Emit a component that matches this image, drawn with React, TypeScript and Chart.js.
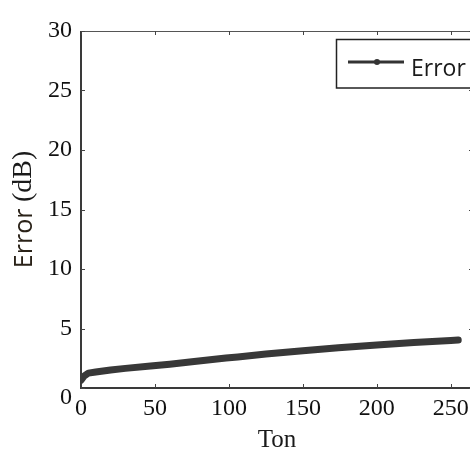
import React, { useEffect, useRef } from "react";
import { Chart, registerables } from "chart.js";

Chart.register(...registerables);

const tonValues = [0, 2, 5, 10, 20, 30, 47, 60, 75, 98, 106, 125, 150, 174, 200, 225, 250, 255];
const errorValues = [0.65, 1.0, 1.25, 1.35, 1.52, 1.65, 1.85, 2.0, 2.2, 2.52, 2.61, 2.85, 3.13, 3.38, 3.62, 3.82, 4.0, 4.03];
const xTicks = [0, 50, 100, 150, 200, 250];
const yTicks = [0, 5, 10, 15, 20, 25, 30];
const seriesLabel = "Error";
const xTitle = "Ton";
const yTitleParts = ["Error ", "(dB)"];

const SERIF = "\"Liberation Serif\", serif";
const SANS = "\"Open Sans\", sans-serif";

const framePlugin = {
  id: "matlabFrame",
  afterDraw(chart: any) {
    const ctx = chart.ctx as CanvasRenderingContext2D;
    const { left, right, top, bottom } = chart.chartArea;
    const xs = chart.scales.x;
    const ys = chart.scales.y;
    ctx.save();
    ctx.strokeStyle = "#3a3a3a";
    ctx.lineWidth = 2;
    ctx.beginPath();
    ctx.moveTo(left, top);
    ctx.lineTo(left, bottom);
    ctx.lineTo(right, bottom);
    ctx.stroke();
    ctx.lineWidth = 1.2;
    ctx.strokeStyle = "#555";
    ctx.beginPath();
    ctx.moveTo(left, top + 0.5);
    ctx.lineTo(right, top + 0.5);
    ctx.lineTo(right, bottom);
    ctx.stroke();
    ctx.lineWidth = 1;
    ctx.strokeStyle = "#444";
    const tl = 4;
    ctx.beginPath();
    xTicks.forEach((v) => {
      const px = Math.round(xs.getPixelForValue(v)) + 0.5;
      ctx.moveTo(px, bottom);
      ctx.lineTo(px, bottom - tl);
      ctx.moveTo(px, top);
      ctx.lineTo(px, top + tl);
    });
    yTicks.forEach((v) => {
      const py = Math.round(ys.getPixelForValue(v)) + 0.5;
      ctx.moveTo(left, py);
      ctx.lineTo(left + tl, py);
      ctx.moveTo(right, py);
      ctx.lineTo(right - tl, py);
    });
    ctx.stroke();

    ctx.fillStyle = "#1a1a1a";
    ctx.font = `25px ${SERIF}`;
    ctx.textAlign = "center";
    ctx.textBaseline = "alphabetic";
    ctx.fillText(xTitle, (left + right) / 2, 447);

    ctx.save();
    ctx.translate(24, (top + bottom) / 2);
    ctx.rotate(-Math.PI / 2);
    ctx.textBaseline = "middle";
    ctx.textAlign = "left";
    const fonts = [`25px ${SANS}`, `28px ${SERIF}`];
    const widths = yTitleParts.map((t, i) => {
      ctx.font = fonts[i];
      return ctx.measureText(t).width;
    });
    const total = widths.reduce((a, b) => a + b, 0);
    let cx = -total / 2;
    yTitleParts.forEach((t, i) => {
      ctx.font = fonts[i];
      ctx.fillStyle = i === 0 ? "#2a2218" : "#1a1a1a";
      ctx.fillText(t, cx, i === 0 ? 1 : 0);
      cx += widths[i];
    });
    ctx.restore();

    const ds = chart.data.datasets[0];
    ctx.lineWidth = 1.5;
    ctx.strokeStyle = "#222";
    ctx.fillStyle = "#fff";
    ctx.fillRect(336, 39, 200, 49);
    ctx.strokeRect(336.5, 39.5, 200, 48.5);
    ctx.strokeStyle = "#333";
    ctx.lineWidth = 3;
    ctx.beginPath();
    ctx.moveTo(348, 62);
    ctx.lineTo(404, 62);
    ctx.stroke();
    ctx.fillStyle = "#333";
    ctx.beginPath();
    ctx.arc(377, 62, 3, 0, Math.PI * 2);
    ctx.fill();
    ctx.fillStyle = "#1a1a1a";
    ctx.font = `23px ${SANS}`;
    ctx.textAlign = "left";
    ctx.textBaseline = "alphabetic";
    ctx.fillText(ds.label, 411, 76);
    ctx.restore();
  },
};

export default function App() {
  const ref = useRef<HTMLCanvasElement | null>(null);
  useEffect(() => {
    let chart: any = null;
    let cancelled = false;
    const build = () => {
      if (cancelled || !ref.current) return;
      chart = new Chart(ref.current, {
        type: "line",
        data: {
          datasets: [
            {
              label: seriesLabel,
              data: tonValues.map((x, i) => ({ x, y: errorValues[i] })),
              borderColor: "#383838",
              backgroundColor: "#383838",
              borderWidth: 7,
              borderCapStyle: "round",
              borderJoinStyle: "round",
              pointRadius: 0,
              tension: 0,
            },
          ],
        },
        options: {
          animation: false,
          responsive: false,
          devicePixelRatio: 1,
          layout: { padding: { top: 31, right: 17, left: 0, bottom: 0 } },
          plugins: { legend: { display: false }, tooltip: { enabled: false } },
          scales: {
            x: {
              type: "linear",
              min: 0,
              max: 265,
              afterBuildTicks: (s: any) => {
                s.ticks = xTicks.map((v) => ({ value: v }));
              },
              afterFit: (s: any) => {
                s.height = 62;
              },
              grid: { display: false, drawTicks: false },
              border: { display: false },
              ticks: {
                padding: 6,
                color: "#111",
                maxRotation: 0,
                autoSkip: false,
                font: { family: SERIF, size: 24 },
              },
            },
            y: {
              type: "linear",
              min: 0,
              max: 30,
              afterBuildTicks: (s: any) => {
                s.ticks = yTicks.map((v) => ({ value: v }));
              },
              afterFit: (s: any) => {
                s.width = 81;
              },
              grid: { display: false, drawTicks: false },
              border: { display: false },
              ticks: {
                padding: 9,
                color: "#111",
                autoSkip: false,
                callback: (v: any) => (Number(v) === 0 ? ["", "0"] : String(v)),
                font: (c: any) => ({
                  family: SERIF,
                  size: 24,
                  lineHeight: c.tick && c.tick.value === 0 ? 0.8 : 1.2,
                }),
              },
            },
          },
        },
        plugins: [framePlugin],
      } as any);
    };
    const fontsApi = (document as any).fonts;
    if (fontsApi && fontsApi.load) {
      Promise.all([
        fontsApi.load('24px "Liberation Serif"'),
        fontsApi.load('24px "Open Sans"'),
      ])
        .catch(() => null)
        .then(build);
    } else {
      build();
    }
    return () => {
      cancelled = true;
      if (chart) chart.destroy();
    };
  }, []);
  return (
    <div
      style={{
        position: "fixed",
        left: 0,
        top: 0,
        width: 470,
        height: 450,
        overflow: "hidden",
        background: "#fff",
      }}
    >
      <canvas ref={ref} width={490} height={450} style={{ display: "block" }} />
    </div>
  );
}
